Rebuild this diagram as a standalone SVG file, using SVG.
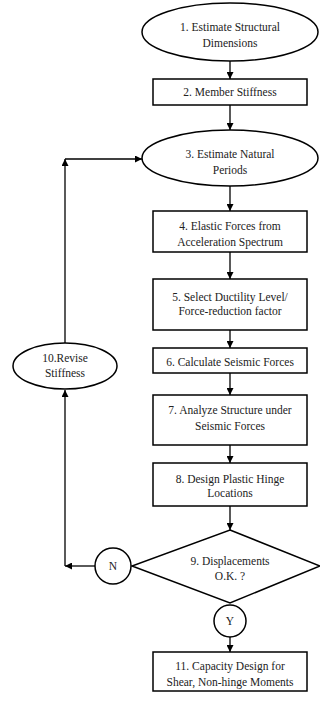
<svg xmlns="http://www.w3.org/2000/svg" width="320" height="702" viewBox="0 0 320 702">
<style>
.s{fill:#fff;stroke:#000;stroke-width:1.5}
.t{font-family:"Liberation Serif","Times New Roman",serif;font-size:11.5px;fill:#222;text-anchor:middle}
.c{fill:none;stroke:#000;stroke-width:1.3}
</style>
<defs>
<marker id="a" viewBox="0 0 10 10" refX="10" refY="5" markerWidth="7" markerHeight="7" markerUnits="userSpaceOnUse" orient="auto"><path d="M0,0L10,5L0,10z" fill="#000"/></marker>
</defs>
<rect width="320" height="702" fill="#fff"/>
<g id="connectors">
<path class="c" d="M230,61V79" marker-end="url(#a)"/>
<path class="c" d="M230,105V130" marker-end="url(#a)"/>
<path class="c" d="M230,186V211" marker-end="url(#a)"/>
<path class="c" d="M230,252V279" marker-end="url(#a)"/>
<path class="c" d="M230,330V348" marker-end="url(#a)"/>
<path class="c" d="M230,373V395" marker-end="url(#a)"/>
<path class="c" d="M230,445V463" marker-end="url(#a)"/>
<path class="c" d="M230,506V530" marker-end="url(#a)"/>
<path class="c" d="M230,637V652" marker-end="url(#a)"/>
<path class="c" d="M95,566H65" marker-end="url(#a)"/>
<path class="c" d="M65,566V390" marker-end="url(#a)"/>
<path class="c" d="M65,343V159" marker-end="url(#a)"/>
<path class="c" d="M65,159H142" marker-end="url(#a)"/>
</g>
<g id="n1"><ellipse class="s" cx="230" cy="32" rx="88" ry="29"/><text class="t" x="230" y="31">1. Estimate Structural</text><text class="t" x="230" y="47">Dimensions</text></g>
<g id="n2"><rect class="s" x="153" y="79" width="154" height="26"/><text class="t" x="230" y="96">2. Member Stiffness</text></g>
<g id="n3"><ellipse class="s" cx="230" cy="158" rx="88" ry="28"/><text class="t" x="230" y="158">3. Estimate Natural</text><text class="t" x="230" y="174">Periods</text></g>
<g id="n4"><rect class="s" x="153" y="211" width="154" height="41"/><text class="t" x="230" y="230">4. Elastic Forces from</text><text class="t" x="230" y="246">Acceleration Spectrum</text></g>
<g id="n5"><rect class="s" x="153" y="279" width="154" height="51"/><text class="t" x="230" y="301">5. Select Ductility Level/</text><text class="t" x="230" y="315">Force-reduction factor</text></g>
<g id="n6"><rect class="s" x="153" y="348" width="154" height="25"/><text class="t" x="230" y="366">6. Calculate Seismic Forces</text></g>
<g id="n7"><rect class="s" x="153" y="395" width="154" height="50"/><text class="t" x="230" y="414">7. Analyze Structure under</text><text class="t" x="230" y="430">Seismic Forces</text></g>
<g id="n8"><rect class="s" x="153" y="463" width="154" height="43"/><text class="t" x="230" y="483">8. Design Plastic Hinge</text><text class="t" x="230" y="497">Locations</text></g>
<g id="n9"><path class="s" d="M230,530L320,566L230,603L132,566z"/><text class="t" x="230" y="565">9. Displacements</text><text class="t" x="230" y="580">O.K. ?</text></g>
<g id="nN"><circle class="s" cx="113" cy="566" r="18"/><text class="t" x="113" y="570">N</text></g>
<g id="nY"><circle class="s" cx="230" cy="621" r="16"/><text class="t" x="230" y="625">Y</text></g>
<g id="n10"><ellipse class="s" cx="65" cy="366" rx="52" ry="23"/><text class="t" x="65" y="362">10.Revise</text><text class="t" x="65" y="377">Stiffness</text></g>
<g id="n11"><rect class="s" x="153" y="652" width="154" height="39"/><text class="t" x="230" y="670">11. Capacity Design for</text><text class="t" x="230" y="686">Shear, Non-hinge Moments</text></g>
</svg>
